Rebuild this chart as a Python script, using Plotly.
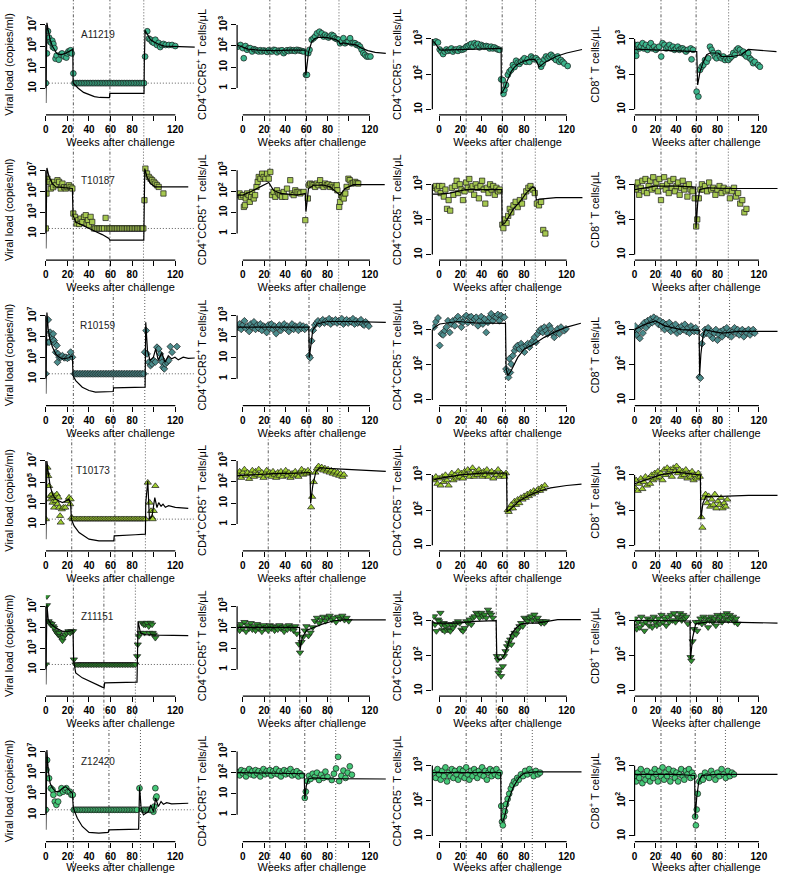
import plotly.graph_objects as go

W, H = 787, 873
LOD = 1.48  # log10 of the detection limit (copies/ml)

animals = ["A11219", "T10187", "R10159", "T10173", "Z11151", "Z12420"]
symbols = ["circle", "square", "diamond", "triangle-up", "triangle-down", "circle"]
colors = ["#3cb48c", "#a6c850", "#4b8c8c", "#a0cf30", "#2f8f2f", "#45c878"]
sizes = [5.8, 5.3, 5.3, 6.3, 6.3, 5.8]
# weeks of the three vertical reference lines per animal
events = [[25.5, 59.4, 90.8], [25.5, 59.4, 90.5], [25.5, 62.5, 91.7],
          [24.0, 64.0, 92.3], [25.5, 53.8, 83.0], [25.5, 58.5, 87.7]]
x_ticks = [0, 20, 40, 60, 80, 120]
x_ticklabels = ["0", "20", "40", "60", "80", "120"]
ytitles = ["Viral load (copies/ml)", "CD4<sup>+</sup>CCR5<sup>+</sup> T cells/μL",
           "CD4<sup>+</sup>CCR5<sup>−</sup> T cells/μL", "CD8<sup>+</sup> T cells/μL"]
y_tickvals = [[10, 1e3, 1e5, 1e7], [1, 10, 100, 1000], [10, 100, 1000], [10, 100, 1000]]
y_ticktext = [["10", "10<sup>3</sup>", "10<sup>5</sup>", "10<sup>7</sup>"],
              ["1", "10", "10<sup>2</sup>", "10<sup>3</sup>"],
              ["10", "10<sup>2</sup>", "10<sup>3</sup>"],
              ["10", "10<sup>2</sup>", "10<sup>3</sup>"]]
y_axisline = [(1, 7), (0, 3), (1, 3), (1, 3)]

# ---------------- A11219 ----------------
A11219_vl = [(1,4.3),(2,6.4),(3,5.8),(4,5.4),(5,5.3),(6,5.5),(6.5,4.9),(7,5.2),(8,4.8),(9,3.8),(10,4.1),(12,3.7),(14,4.2),(15,4.3),(17,4.0),(19,3.9),(20,4.3),(21,4.5),(22,4.4),(23,4.6),(24,4.3),(25.5,2.4),(92,4.0),(94,6.4),(95.5,5.7),(97,5.6),(98.5,5.4),(100,5.3),(101.5,5.6),(103,5.1),(104.5,5.3),(106,4.9),(107.5,5.1),(109,5.2),(111,5.1),(114,5.1),(117,5.1),(120,5.0)]
A11219_vl_lod = [0,26.5,28,29.5,31,32.5,34,35.5,37,38.5,40,41.5,43,44.5,46,47.5,49,50.5,52,53.5,55,56.5,58,59.5,61,62.5,64,65.5,67,68.5,70,71.5,73,74.5,76,77.5,79,80.5,82,83.5,85,86.5,88,89.5,91]
A11219_vl_model = [(0,-0.4),(0.3,3.0),(1,7.2),(2,6.6),(3,6.0),(4,5.6),(6,5.0),(8,4.6),(10,4.3),(12,4.2),(15,4.2),(18,4.3),(21,4.5),(24,4.7),(25,4.7),(25.3,1.5),(27,1.3),(30,1.0),(35,0.6),(40,0.37),(45,0.2),(50,0.12),(55,0.1),(59,0.1),(59.3,0.5),(75,0.5),(91,0.5),(91.3,3.5),(92,6.5),(93,6.3),(95,5.9),(97,5.6),(100,5.4),(105,5.15),(110,5.0),(120,4.95),(138,4.9)]
A11219_r5p = [(-4.7,1.97),(-2.2,2.05),(0,1.90),(0.9,1.42),(2.5,2.00),(4,1.82),(5.5,1.90),(7,1.90),(8.8,1.74),(10.5,1.85),(12,1.82),(13.5,1.78),(15,1.74),(16.5,1.80),(18,1.74),(19.7,1.79),(21.3,1.76),(23,1.72),(24.5,1.80),(26,1.75),(27.6,1.74),(29.2,1.82),(30.7,1.80),(32.3,1.70),(34,1.78),(35.4,1.76),(37,1.80),(38.6,1.66),(40,1.74),(41.7,1.80),(43.3,1.76),(44.8,1.82),(46.4,1.78),(48,1.80),(49.5,1.76),(51,1.82),(52.7,1.80),(54.2,1.78),(55.8,1.76),(57.4,1.74),(59.6,0.63),(60.6,0.63),(61.8,1.66),(63,1.82),(65,2.30),(66.8,2.37),(68.3,2.45),(70,2.60),(72.4,2.68),(74.6,2.60),(76.2,2.45),(77.7,2.53),(79.3,2.45),(81,2.40),(82.4,2.45),(84,2.53),(85.6,2.48),(87,2.37),(88.7,2.33),(90.3,2.30),(91.8,2.13),(93.4,2.21),(95,2.37),(96.5,2.13),(98.2,2.18),(99.7,2.21),(101.3,2.37),(102.8,2.13),(104.4,2.15),(106,2.13),(107.5,2.05),(109,2.05),(110.7,1.97),(112.2,1.82),(113.8,1.66),(115.4,1.58),(117,1.50),(118.5,1.50),(120.5,1.50)]
A11219_r5p_model = [(-5.4,2.05),(0,1.95),(5,1.85),(15,1.8),(30,1.78),(45,1.8),(58.8,1.8),(59.5,0.6),(60.5,1.0),(62,1.7),(65,2.2),(68,2.35),(72,2.42),(80,2.4),(88,2.3),(91,2.2),(92,2.1),(95,2.15),(100,2.1),(107,2.05),(112,1.9),(118,1.78),(125,1.7),(135,1.65)]
A11219_r5n = [(-4.7,2.90),(-3,2.93),(-1,2.90),(0.6,2.70),(2.2,2.64),(3.8,2.57),(5.3,2.64),(6.9,2.70),(8.4,2.66),(10,2.69),(11.6,2.73),(13,2.64),(14.7,2.69),(16.2,2.70),(17.8,2.66),(19.4,2.73),(21,2.69),(22.5,2.70),(24,2.73),(25.6,2.78),(27,2.80),(28.7,2.83),(30.3,2.86),(31.8,2.78),(33.4,2.88),(35,2.83),(36.5,2.86),(38,2.76),(39.7,2.83),(41.2,2.80),(42.8,2.78),(44.4,2.80),(46,2.78),(47.5,2.73),(49,2.78),(50.6,2.73),(52,2.76),(53.7,2.73),(55.3,2.70),(56.9,2.69),(58.4,1.85),(60,1.83),(60.6,1.44),(61.5,1.55),(63,1.69),(64.7,1.98),(66.2,2.07),(67.8,2.12),(69.4,2.26),(71,2.20),(72.5,2.38),(74,2.32),(75.6,2.29),(77.2,2.35),(78.7,2.40),(80.3,2.45),(81.9,2.35),(83.4,2.42),(85,2.35),(86.6,2.50),(88.1,2.45),(89.7,2.42),(91.2,2.45),(92.8,2.40),(94.4,2.35),(96,2.21),(97.5,2.30),(99,2.42),(100.6,2.50),(102.2,2.45),(103.8,2.50),(105.3,2.55),(106.9,2.50),(108.4,2.45),(110,2.40),(111.6,2.50),(113.1,2.35),(114.7,2.40),(116.3,2.35),(117.8,2.30),(121,2.23)]
A11219_r5n_model = [(-6.3,2.92),(-4.7,2.92),(-2,2.8),(0.6,2.69),(3,2.68),(20,2.7),(40,2.72),(58.4,2.73),(58.6,1.44),(60,1.5),(62,1.62),(64,1.8),(67.8,2.07),(71,2.2),(74,2.28),(80,2.37),(86,2.42),(90,2.42),(92,2.35),(94,2.2),(97,2.28),(100,2.34),(110,2.5),(120,2.6),(134.5,2.7)]
A11219_cd8 = [(0.6,2.83),(1,2.62),(1.6,2.52),(3.2,2.83),(4.5,2.73),(6,2.79),(7.7,2.88),(9,2.73),(10.9,2.83),(12.5,2.69),(14.1,2.78),(15.7,2.88),(17.3,2.73),(18.9,2.78),(20.5,2.69),(22,2.73),(23.7,2.78),(25.7,2.50),(27,2.88),(28.8,2.83),(30.5,2.73),(32,2.78),(33.7,2.83),(35.3,2.73),(37,2.78),(38.5,2.69),(40.1,2.73),(41.7,2.78),(43.3,2.69),(45,2.73),(46.5,2.73),(48,2.69),(49.6,2.64),(51.3,2.69),(54.2,2.73),(55,2.42),(56.4,2.69),(59.9,1.50),(61.6,1.36),(63.2,2.12),(64.8,2.21),(66.4,2.26),(68,2.40),(69.6,2.35),(71.2,2.45),(72.8,2.78),(74.4,2.69),(76,2.60),(77.6,2.50),(79.2,2.45),(80.8,2.60),(82.4,2.50),(84,2.45),(85.7,2.50),(87.3,2.40),(88.9,2.45),(90.5,2.40),(92,2.45),(93.7,2.50),(95.3,2.60),(96.9,2.55),(98.5,2.69),(100,2.73),(101.7,2.69),(103.3,2.60),(104.9,2.64),(106.5,2.55),(108,2.50),(109.7,2.60),(111.3,2.45),(113,2.40),(114.5,2.31),(116,2.35),(119.3,2.26),(121,2.21)]
A11219_cd8_model = [(0,2.71),(30,2.68),(60,2.64),(60.9,1.69),(63.2,2.07),(66.4,2.35),(69.6,2.55),(72.8,2.6),(80.8,2.6),(84,2.5),(93.7,2.5),(103.3,2.55),(109.7,2.7),(137,2.64)]

# ---------------- T10187 ----------------
T10187_vl = [(0.6,4.79),(1.5,6.2),(3,5.9),(4.6,5.27),(5.5,5.74),(6.8,5.4),(7.7,5.9),(9.2,5.58),(10.8,6.06),(12.3,5.9),(13.8,5.27),(15.4,5.74),(17,5.4),(18.5,5.27),(20,5.4),(21.5,5.58),(23,5.42),(24.6,5.27),(25.5,2.9),(27,2.58),(28.6,1.95),(30,2.26),(31,1.9),(32.3,2.42),(33.8,2.1),(35.4,2.58),(37,2.74),(37.8,1.95),(39,2.26),(40,1.79),(41.5,2.58),(43,2.1),(55.4,2.48),(91.4,4.16),(92.3,7.16),(93.8,6.69),(95.4,6.37),(97,6.2),(98.5,6.06),(100,5.9),(101.5,5.74),(103,5.58),(104.6,5.42),(109,4.8)]
T10187_vl_lod = [0,44.6,46,47.7,49.2,50.8,52.3,54,57,58.5,60,61.5,63,64.6,66,67.7,69.2,70.8,72.3,74,75.4,77,78.5,80,81.5,83,84.6,86,87.7,89.2,90.4]
T10187_vl_model = [(0,-0.42),(0.3,3.0),(1,7.22),(3,6.37),(4.6,6.05),(6.2,5.74),(9.2,5.42),(21.5,5.27),(24.6,5.27),(25.2,2.74),(27.7,2.1),(33.8,1.8),(40,1.47),(46,1.2),(52.3,0.9),(58.5,0.53),(59.4,0.37),(90.8,0.37),(91.7,7.16),(93.8,6.37),(96.9,5.74),(101.5,5.42),(132,5.42)]
T10187_r5p = [(-4.7,1.82),(-3.1,1.90),(-1.6,1.74),(0,1.82),(1,1.26),(2,1.34),(2.8,1.66),(4,1.90),(5.5,1.82),(6.6,1.50),(7.8,1.74),(8.8,1.97),(10.3,1.66),(11.6,1.82),(12.9,2.21),(14,2.45),(15,2.68),(16.6,2.60),(18.2,2.84),(19.7,2.68),(21.3,2.60),(22.9,2.84),(24.5,2.60),(26,2.92),(27.6,1.82),(29,1.97),(30.7,1.74),(32.3,2.05),(33.9,1.90),(35.4,1.82),(37,1.74),(38.6,1.97),(40.2,1.74),(41.7,2.13),(44.8,2.53),(46.4,1.90),(48,1.82),(49.5,2.05),(51,1.97),(52.7,1.97),(54.3,1.90),(57.4,1.97),(59,0.63),(61.4,1.66),(62.4,2.29),(63.6,2.37),(65.2,2.33),(66.8,2.29),(68.3,2.21),(69.9,2.37),(71.5,2.29),(73,2.53),(74.6,2.29),(76.2,2.21),(77.7,2.37),(79.3,2.29),(80.9,2.33),(82.4,2.21),(84,2.29),(85.6,2.21),(87.1,2.16),(88.7,2.29),(89.3,2.05),(91,1.26),(91.8,1.50),(92.8,1.82),(94,1.74),(95.3,1.66),(96.8,1.90),(98,2.21),(99.7,2.60),(101,2.53),(102.8,2.37),(104.4,2.40),(106,2.45),(107.5,2.40),(109,2.37)]
T10187_r5p_model = [(-6,1.82),(0,1.82),(7,1.97),(19.7,2.29),(24.5,2.42),(29,2.05),(35.4,1.9),(51,1.82),(59,1.9),(59.6,1.03),(62,2.13),(66.8,2.29),(76,2.3),(82.4,2.21),(88.7,1.97),(91.8,1.82),(96.5,2.13),(99.7,2.21),(104.4,2.32),(113.8,2.32),(134,2.32)]
T10187_r5n = [(-4.5,2.90),(-3,2.95),(-1.5,2.85),(0,2.95),(1.5,2.75),(3,2.95),(4.5,2.65),(6,2.85),(7.5,2.30),(9,2.55),(10.5,2.25),(12,2.90),(13.5,2.70),(15,2.95),(16.5,3.10),(18,2.75),(19.5,3.00),(21,2.85),(22.5,2.55),(24,2.80),(25.5,3.05),(27,2.90),(28.5,3.15),(30,2.85),(31.5,2.95),(33,2.70),(34.5,3.00),(36,2.90),(37.5,2.60),(39,2.95),(40.5,3.10),(42,2.85),(43.5,2.45),(45,2.90),(46.5,2.75),(48,3.00),(49.5,2.85),(51,2.95),(52.5,2.70),(54,2.90),(55.5,2.80),(57,2.85),(59.5,1.85),(60.5,1.75),(62,2.00),(63.5,1.90),(65,2.10),(66.5,2.30),(68,2.20),(70,2.40),(72,2.50),(74,2.35),(76,2.55),(78,2.45),(80,2.65),(82,2.80),(84,2.90),(86,2.95),(88,2.85),(90,2.75),(92,2.45),(94,2.40),(96,2.50),(98,1.70),(100,1.60)]
T10187_r5n_model = [(-6,2.72),(0,2.72),(10,2.75),(25,2.85),(45,2.85),(59,2.85),(59.3,1.85),(62,1.9),(66,2.1),(70,2.3),(76,2.5),(82,2.75),(88,2.92),(90.5,2.88),(91.5,2.55),(95,2.58),(110,2.62),(135,2.62)]
T10187_cd8 = [(0,2.95),(1.5,2.85),(3,3.05),(4.5,2.70),(6,2.90),(7.5,3.10),(9,2.80),(10.5,3.15),(12,2.75),(13.5,2.95),(15,3.10),(16.5,2.85),(18,3.20),(19.5,2.90),(21,3.05),(22.5,2.80),(24,3.15),(25.5,2.55),(27,2.95),(28.5,3.20),(30,2.85),(31.5,3.00),(33,2.75),(34.5,3.10),(36,2.90),(37.5,3.15),(39,2.80),(40.5,2.95),(42,3.05),(43.5,2.70),(45,2.90),(46.5,3.10),(48,2.85),(49.5,2.95),(51,2.65),(52.5,3.00),(54,2.85),(56,2.80),(58,2.60),(59.5,1.80),(60.5,2.00),(62,2.60),(63.5,2.85),(65,3.00),(66.5,2.85),(68,2.95),(70,2.80),(72,3.05),(74,2.85),(76,2.90),(78,2.70),(80,2.85),(82,2.95),(84,2.75),(86,2.90),(88,2.80),(90,2.85),(92,2.60),(94,2.80),(96,2.90),(98,2.65),(100,2.75),(102,2.45),(104,2.55),(106,2.20),(108,2.30)]
T10187_cd8_model = [(0,2.85),(20,2.95),(40,2.95),(59,2.92),(59.3,1.75),(61,2.5),(63,2.85),(70,2.9),(90,2.88),(138,2.88)]

# ---------------- R10159 ----------------
R10159_vl = [(1,4.47),(2.2,6.6),(3,4.47),(4,5.42),(5.2,5.1),(6.2,4.8),(6.8,5.27),(7.7,4.63),(8.6,4.32),(9.2,3.53),(10.2,4.16),(10.8,2.58),(11.4,3.37),(12.3,3.05),(13.8,3.05),(15.4,3.2),(17,3.0),(18.5,3.05),(20,2.95),(21.5,3.05),(23,3.53),(24.6,3.05),(91.7,3.53),(93,5.58),(93.8,3.37),(95.4,2.58),(97,2.26),(98.5,2.42),(100,2.74),(101.5,2.6),(103,4.0),(104.6,3.84),(106,3.37),(107,2.9),(107.7,2.58),(108.6,2.1),(109.8,1.95),(110.8,2.42),(112.3,2.58),(113.8,2.74),(115.4,4.06),(117,3.53),(121.5,4.06)]
R10159_vl_lod = [0,26.5,28,29.5,31,32.5,34,35.5,37,38.5,40,41.5,43,44.5,46,47.5,49,50.5,52,53.5,55,56.5,58,59.5,61,62.5,64,65.5,67,68.5,70,71.5,73,74.5,76,77.5,79,80.5,82,83.5,85,86.5,88,89.5,91]
R10159_vl_model = [(0,-0.42),(0.3,3.0),(1,7.3),(2.2,5.74),(3.7,4.8),(6.2,4.0),(9.2,3.37),(12.3,3.05),(15.4,2.9),(21.5,3.0),(24.6,3.2),(25.2,1.3),(27.7,0.84),(33.8,0.21),(40,-0.1),(46,-0.26),(52.3,-0.26),(62.5,-0.2),(62.8,0.15),(92,0.21),(92.6,6.37),(94.2,3.7),(96.6,2.74),(99.7,3.05),(101.8,3.84),(104.3,2.74),(107.4,3.5),(110.5,2.58),(113.5,3.2),(116.6,2.9),(119.7,3.05),(122.8,2.8),(127.3,3.05),(132,2.95),(138,2.98)]
R10159_r5p = [(-4.5,2.45),(-3,2.60),(-1.5,2.35),(0,2.55),(1.5,2.75),(3,2.40),(4.5,2.50),(6,2.25),(7.5,2.60),(9,2.45),(10.5,2.70),(12,2.35),(13.5,2.55),(15,2.40),(16.5,2.60),(18,2.30),(19.5,2.50),(21,2.45),(22.5,2.20),(24,2.55),(25.5,2.40),(27,2.60),(28.5,2.35),(30,2.50),(31.5,2.15),(33,2.45),(34.5,2.55),(36,2.30),(37.5,2.45),(39,2.60),(40.5,2.40),(42,2.50),(43.5,2.25),(45,2.45),(46.5,2.60),(48,2.35),(49.5,2.50),(51,2.45),(52.5,2.30),(54,2.55),(55.5,2.40),(57,2.50),(58.5,2.35),(60,2.45),(62.5,1.10),(63.5,1.00),(65,1.80),(66.5,2.30),(68,2.55),(69.5,2.65),(71,2.75),(72.5,2.60),(74,2.70),(75.5,2.80),(77,2.65),(78.5,2.75),(80,2.70),(81.5,2.85),(83,2.60),(84.5,2.75),(86,2.70),(87.5,2.80),(89,2.65),(90.5,2.75),(92,2.70),(93.5,2.85),(95,2.60),(96.5,2.70),(98,2.80),(99.5,2.65),(101,2.75),(102.5,2.70),(104,2.85),(105.5,2.60),(107,2.75),(108.5,2.65),(110,2.70),(111.5,2.80),(113,2.60),(114.5,2.55),(116,2.70),(117.5,2.60),(119,2.50)]
R10159_r5p_model = [(-5.4,2.45),(20,2.45),(40,2.45),(62.3,2.45),(62.8,1.0),(64,1.5),(66,2.3),(70,2.6),(80,2.72),(100,2.72),(120,2.7),(135,2.68)]
R10159_r5n = [(-4.7,3.07),(-3.1,3.22),(-1,3.33),(0.6,2.55),(2.2,2.88),(3.8,2.85),(5.3,2.97),(6.9,3.07),(8.4,3.25),(10,2.92),(11.5,3.16),(13,3.25),(14.7,3.11),(16.2,3.30),(17.8,3.37),(19.4,3.25),(21,3.07),(22.5,3.21),(24,3.35),(25.6,3.40),(27,3.20),(28.7,3.35),(30.3,3.37),(31.8,3.21),(33.4,3.30),(35,3.35),(36.6,3.11),(38.1,3.25),(39.7,3.37),(41.2,3.16),(42.8,3.30),(44.4,2.92),(46,3.21),(47.5,3.35),(49,3.45),(50.6,3.25),(52,3.37),(53.7,3.35),(55.3,3.43),(56.8,3.25),(58.4,3.40),(60,3.35),(61.5,3.35),(63,1.88),(64,1.81),(65.3,1.64),(66.2,2.17),(67,1.78),(67.8,2.02),(69.4,2.26),(71,2.40),(72.5,2.50),(74,2.55),(75.6,2.45),(77.2,2.60),(78.7,2.50),(80.3,2.36),(81.9,2.55),(83.4,2.60),(85,2.50),(86.6,2.60),(88.1,2.68),(89.7,2.78),(91.2,2.64),(92.8,2.88),(94.4,2.97),(96,3.02),(97.5,2.92),(99,3.07),(100.6,2.97),(102.2,2.88),(103.8,3.11),(105.3,3.02),(106.9,2.88),(108.4,2.78),(110,2.92),(111.6,3.02),(113.1,2.88),(114.7,3.07),(117.8,2.97),(119.4,3.02)]
R10159_r5n_model = [(-6.3,3.0),(-4.1,3.07),(0.6,3.16),(8.4,3.2),(17.8,3.23),(33.4,3.19),(49,3.18),(62.5,3.18),(63.1,1.88),(64.7,1.69),(67.8,1.83),(74,2.21),(80.3,2.45),(89.7,2.6),(99,2.78),(111.6,2.97),(121,3.08),(133.4,3.18)]
R10159_cd8 = [(-1,2.95),(0.5,3.10),(2,2.85),(3.5,3.00),(5,2.75),(6.5,3.10),(8,2.90),(9.5,3.20),(11,3.05),(12.5,3.25),(14,3.15),(15.5,3.30),(17,3.20),(18.5,3.35),(20,3.25),(21.5,3.30),(23,3.15),(24.5,3.25),(26,3.10),(27.5,3.20),(29,3.00),(30.5,3.15),(32,3.05),(33.5,3.20),(35,2.95),(36.5,3.10),(38,3.00),(39.5,3.15),(41,2.90),(42.5,3.05),(44,2.95),(45.5,3.10),(47,3.00),(48.5,3.15),(50,2.95),(51.5,3.05),(53,2.90),(54.5,3.10),(56,3.00),(57.5,2.95),(59,3.05),(60.5,2.95),(62.5,1.65),(63.5,1.62),(65,2.60),(66.5,2.85),(68,3.00),(69.5,2.90),(71,3.05),(72.5,2.85),(74,2.95),(75.5,2.75),(77,2.90),(78.5,3.00),(80,2.70),(81.5,2.85),(83,2.95),(84.5,2.80),(86,3.00),(87.5,2.90),(89,3.05),(90.5,2.85),(92,2.95),(93.5,2.80),(95,2.95),(96.5,3.05),(98,2.90),(99.5,3.00),(101,2.85),(102.5,2.95),(104,3.00),(105.5,2.80),(107,2.95),(108.5,2.90),(110,3.00),(111.5,2.85),(113,2.95),(114.5,3.00),(116,2.90)]
R10159_cd8_model = [(0,3.0),(10,3.15),(20,3.25),(30,3.1),(45,3.0),(62.3,2.98),(62.8,1.7),(64,2.3),(66,2.8),(68,3.0),(75,2.95),(85,2.9),(100,2.95),(120,2.95),(138,2.95)]

# ---------------- T10173 ----------------
T10173_vl = [(0.6,5.9),(1.5,6.37),(2.2,5.58),(3,4.63),(4,3.68),(4.6,3.37),(5.5,3.84),(6.2,3.05),(6.8,3.53),(7.7,2.58),(8.6,3.68),(9.2,3.2),(10.2,3.84),(10.8,2.9),(11.7,3.53),(12.3,2.58),(13.2,1.79),(13.8,1.16),(14.8,2.42),(16.3,2.58),(18,2.58),(20,3.2),(21.5,3.53),(22.5,2.9),(23,3.37),(24,1.63),(94.5,4.95),(96.3,3.05),(97.5,2.26),(98.5,1.63),(100,2.26),(101.5,4.63)]
T10173_vl_lod = [0,25,26.5,28,29.5,31,32.5,34,35.5,37,38.5,40,41.5,43,44.5,46,47.5,49,50.5,52,53.5,55,56.5,58,59.5,61,62.5,64,65.5,67,68.5,70,71.5,73,74.5,76,77.5,79,80.5,82,83.5,85,86.5,88,89.5,91,92.5,99]
T10173_vl_model = [(0,-0.42),(0.3,3.0),(1,7.0),(2.2,5.9),(4,4.63),(6.2,3.84),(9.2,3.37),(12.3,3.2),(15.4,3.05),(18.5,3.2),(21.5,3.37),(23,2.9),(23.7,1.47),(26.2,0.84),(30.8,0.21),(40,-0.42),(49.2,-0.58),(63,-0.58),(63.4,-0.1),(83,0.0),(92.3,0.05),(92.6,3.0),(94.5,5.1),(96,1.47),(98.5,1.79),(101,3.53),(103,2.58),(104.6,3.05),(106.8,2.7),(108.6,2.9),(110.8,2.6),(113.8,2.75),(120,2.6),(126,2.55),(132,2.5)]
T10173_r5p = [(-4.5,2.35),(-3,2.50),(-1.5,2.20),(0,2.45),(1.5,2.60),(3,2.30),(4.5,2.45),(6,2.15),(7.5,2.40),(9,2.55),(10.5,2.25),(12,2.50),(13.5,2.35),(15,2.60),(16.5,2.30),(18,2.45),(19.5,2.20),(21,2.40),(22.5,2.55),(24,2.30),(25.5,2.45),(27,2.25),(28.5,2.50),(30,2.35),(31.5,2.20),(33,2.45),(34.5,2.30),(36,2.50),(37.5,2.25),(39,2.40),(40.5,2.55),(42,2.30),(43.5,2.45),(45,2.20),(46.5,2.40),(48,2.30),(49.5,2.50),(51,2.35),(52.5,2.25),(54,2.45),(55.5,2.60),(57,2.35),(58.5,2.50),(60,2.40),(61.5,2.55),(63,2.45),(64.5,0.80),(65.5,1.30),(67,2.00),(68.5,2.45),(70,2.65),(71.5,2.75),(73,2.60),(74.5,2.70),(76,2.55),(77.5,2.65),(79,2.50),(80.5,2.60),(82,2.45),(83.5,2.55),(85,2.40),(86.5,2.50),(88,2.35),(89.5,2.45),(91,2.30),(92.5,2.40),(94,2.25),(95.5,2.35)]
T10173_r5p_model = [(-5.4,2.3),(10,2.35),(30,2.4),(50,2.42),(63.5,2.45),(64,1.0),(66,1.8),(69,2.5),(73,2.68),(80,2.65),(95,2.6),(115,2.55),(135,2.5)]
T10173_r5n = [(-4.5,2.85),(-3,2.95),(-1.5,2.75),(0,2.90),(1.5,2.70),(3,2.95),(4.5,2.80),(6,3.00),(7.5,2.85),(9,2.70),(10.5,2.95),(12,3.05),(13.5,2.85),(15,3.00),(16.5,2.90),(18,3.10),(19.5,2.95),(21,3.05),(22.5,2.90),(24,3.10),(25.5,3.00),(27,3.15),(28.5,2.95),(30,3.05),(31.5,3.20),(33,2.95),(34.5,3.10),(36,3.00),(37.5,3.15),(39,3.05),(40.5,2.95),(42,3.10),(43.5,3.00),(45,3.15),(46.5,2.95),(48,3.05),(49.5,3.10),(51,2.90),(52.5,3.05),(54,3.00),(55.5,3.15),(57,2.95),(58.5,3.05),(60,3.00),(61.5,2.95),(63,3.05),(64.5,2.00),(65.5,1.95),(66.5,2.05),(68,2.15),(69.5,2.05),(71,2.25),(72.5,2.15),(74,2.30),(75.5,2.20),(77,2.35),(78.5,2.30),(80,2.40),(81.5,2.35),(83,2.45),(84.5,2.40),(86,2.50),(87.5,2.45),(89,2.55),(90.5,2.50),(92,2.55),(93.5,2.60),(95,2.55),(96.5,2.65),(98,2.60),(99.5,2.70)]
T10173_r5n_model = [(-6.3,2.85),(0,2.9),(20,3.0),(40,3.05),(63.5,3.05),(64,1.95),(68,2.05),(75,2.25),(85,2.42),(95,2.55),(105,2.63),(120,2.7),(134,2.74)]
T10173_cd8 = [(0,2.65),(1.5,2.85),(3,2.55),(4.5,2.75),(6,2.90),(7.5,2.60),(9,2.80),(10.5,2.95),(12,2.70),(13.5,2.90),(15,2.75),(16.5,3.00),(18,2.85),(19.5,3.05),(21,2.90),(22.5,3.10),(24,2.95),(25.5,3.05),(27,2.85),(28.5,3.15),(30,3.00),(31.5,3.20),(33,3.05),(34.5,3.15),(36,2.95),(37.5,3.20),(39,3.10),(40.5,3.25),(42,3.05),(43.5,3.15),(45,2.95),(46.5,3.10),(48,3.00),(49.5,3.15),(51,2.90),(52.5,3.05),(54,2.95),(55.5,3.10),(57,2.85),(58.5,3.00),(60,2.90),(61.5,3.05),(63,2.95),(64.5,1.80),(65.5,1.50),(67,2.35),(68.5,2.45),(70,2.20),(71.5,2.40),(73,2.10),(74.5,2.30),(76,2.15),(77.5,2.45),(79,2.05),(80.5,2.25),(82,2.15),(83.5,2.35),(85,2.05),(86.5,2.20),(88,2.10),(89.5,2.30)]
T10173_cd8_model = [(0,2.75),(10,2.85),(25,3.0),(40,3.08),(55,3.02),(63.5,3.0),(64,1.75),(66,2.2),(69,2.4),(75,2.38),(90,2.4),(110,2.42),(138,2.42)]

# ---------------- Z11151 ----------------
Z11151_vl = [(1,7.95),(1,7.1),(2.5,5.58),(3.5,5.42),(4.6,5.27),(5.5,5.33),(6.8,5.1),(7.7,4.95),(9.2,4.63),(10.2,4.5),(11.4,4.32),(12.3,4.47),(13.2,4.16),(14.5,4.0),(15.4,3.75),(16.3,4.06),(17.8,4.32),(19.4,4.47),(21,4.63),(22.5,4.47),(23.7,4.63),(25.2,4.63),(26,1.95),(84.6,2.26),(85.2,3.37),(86.2,4.16),(87.7,4.47),(89.2,5.42),(90.8,5.27),(91.4,4.47),(92.3,5.27),(93.8,5.42),(95.4,5.1),(96,4.47),(97,5.42),(98.5,5.27),(99,4.47),(100,4.32),(101.5,4.0)]
Z11151_vl_lod = [0,27.5,29,30.5,32,33.5,35,36.5,38,39.5,41,42.5,44,45.5,47,48.5,50,51.5,53,54.5,56,57.5,59,60.5,62,63.5,65,66.5,68,69.5,71,72.5,74,75.5,77,78.5,80,81.5,83]
Z11151_vl_model = [(0,-0.42),(0.3,3.0),(1,7.16),(2.2,5.74),(4.6,5.33),(9.2,4.95),(15.4,4.63),(21.5,4.63),(25.2,4.7),(25.8,1.79),(27.7,0.68),(33.8,0.21),(40,-0.1),(46,-0.42),(52.3,-0.67),(54,-0.74),(54.5,-0.26),(84.5,-0.2),(85.5,5.58),(87.7,4.47),(92.3,4.32),(104.6,4.26),(132,4.22)]
Z11151_r5p = [(-4.5,2.05),(-3,1.85),(-1.5,2.15),(0,1.95),(1.5,2.25),(3,1.80),(4.5,2.10),(6,1.95),(7.5,2.20),(9,1.90),(10.5,2.05),(12,1.85),(13.5,2.15),(15,1.95),(16.5,2.05),(18,1.80),(19.5,2.10),(21,1.95),(22.5,2.00),(24,1.85),(25.5,2.10),(27,1.95),(28.5,2.05),(30,1.85),(31.5,2.00),(33,1.90),(34.5,2.10),(36,1.95),(37.5,2.00),(39,1.80),(40.5,2.05),(42,1.90),(43.5,2.10),(45,1.95),(46.5,2.00),(48,1.85),(49.5,2.05),(51,1.70),(53,1.20),(54,0.80),(55.5,1.30),(57,1.55),(58.5,1.85),(60,2.05),(62,1.60),(64,1.75),(66,2.00),(68,2.30),(70,2.45),(72,2.20),(74,2.35),(76,2.50),(78,2.30),(80,2.45),(82,2.55),(84,2.35),(86,2.45),(88,2.25),(90,2.50),(92,2.40),(94,2.55),(96,2.35),(98,2.45),(100,2.30)]
Z11151_r5p_model = [(-5.4,2.0),(20,2.0),(40,2.0),(53.5,2.0),(54,0.9),(56,1.5),(60,1.85),(65,1.95),(75,2.15),(85,2.3),(95,2.35),(135,2.35)]
Z11151_r5n = [(-4.7,3.11),(-3.8,2.88),(-2.5,2.69),(-0.9,3.02),(0,2.97),(1.3,3.21),(2.2,2.88),(3.1,2.73),(4.4,2.92),(5.3,2.69),(6.2,2.83),(7.5,2.73),(8.4,2.88),(9.4,2.73),(10.6,2.69),(11.6,2.88),(13.1,2.78),(14.7,2.88),(16.2,2.92),(17.8,2.97),(19.4,2.92),(21,2.73),(22.5,2.69),(24,2.78),(25.6,2.97),(27.2,2.92),(28.8,3.02),(30.3,2.88),(31.8,3.07),(33.4,3.11),(35,3.21),(36.6,3.16),(38.1,3.07),(39.7,3.21),(41.2,3.11),(42.8,3.16),(44.4,3.07),(46,3.30),(47.5,3.21),(49,3.16),(50.6,3.07),(54.4,1.98),(55.3,1.88),(55.9,1.50),(56.9,1.60),(58.4,1.41),(60,1.69),(61,1.98),(62.5,2.12),(64,2.26),(65.3,2.36),(66.9,2.45),(68,2.31),(69.4,2.55),(71,2.64),(72.5,2.60),(74,2.73),(75.6,2.83),(77.2,2.92),(78.7,2.83),(80.3,3.07),(81.9,3.02),(83.4,2.97),(85,3.07),(86.6,3.11),(88.1,2.99),(89.7,3.16),(91.2,3.02),(92.8,3.07),(94.4,2.97),(96,2.92),(97.5,2.97),(99,2.92),(100.6,2.97)]
Z11151_r5n_model = [(-6.3,2.97),(-4.1,2.92),(0.6,2.92),(17.8,2.92),(33.4,2.97),(53.7,2.99),(54.3,1.98),(55.9,1.88),(58.4,1.88),(61.5,2.02),(64.7,2.3),(67.8,2.6),(72.5,2.78),(77.2,2.9),(83.4,2.92),(92.8,2.92),(102,2.97),(111.6,3.02),(133.4,3.02)]
Z11151_cd8 = [(-1,2.85),(0.5,3.05),(2,2.75),(3.5,2.95),(5,2.80),(6.5,3.10),(8,2.90),(9.5,2.70),(11,2.95),(12.5,3.05),(14,2.85),(15.5,3.00),(17,2.80),(18.5,3.10),(20,2.95),(21.5,2.85),(23,3.05),(24.5,2.90),(26,3.15),(27.5,2.95),(29,3.05),(30.5,2.85),(32,3.10),(33.5,2.95),(35,3.15),(36.5,3.00),(38,3.20),(39.5,2.95),(41,3.10),(42.5,3.05),(44,3.20),(45.5,3.00),(47,3.15),(48.5,3.05),(50,3.10),(51.5,2.90),(54,1.95),(54.8,1.85),(56,2.40),(57.5,2.75),(59,2.95),(60.5,2.70),(62,2.95),(63.5,3.05),(65,2.90),(66.5,3.10),(68,2.95),(69.5,3.05),(71,2.80),(72.5,3.00),(74,3.10),(75.5,2.95),(77,3.05),(78.5,2.85),(80,3.15),(81.5,3.00),(83,3.10),(84.5,2.95),(86,3.15),(87.5,3.05),(89,3.20),(90.5,3.00),(92,3.15),(93.5,3.05),(95,3.10),(96.5,2.95),(98,3.05),(99.5,2.90)]
Z11151_cd8_model = [(0,3.0),(20,3.0),(40,3.0),(53.5,2.98),(54,1.9),(56,2.5),(59,2.9),(70,2.95),(90,2.95),(138,2.92)]

# ---------------- Z12420 ----------------
Z12420_vl = [(0.6,5.27),(1.2,6.2),(3,4.47),(4.6,3.53),(6.2,3.37),(7,2.9),(8.3,2.26),(9.8,1.95),(11.4,2.26),(12.9,3.05),(14.5,3.53),(16,3.2),(17.8,3.37),(19,3.53),(20.6,3.2),(22.2,3.2),(23.7,2.9),(25,2.9),(86.8,3.53),(99.7,1.3),(100.6,1.79),(101.5,3.53),(102,2.58),(102.6,2.74)]
Z12420_vl_lod = [0,26,27.5,29,30.5,32,33.5,35,36.5,38,39.5,41,42.5,44,45.5,47,48.5,50,51.5,53,54.5,56,57.5,59,60.5,62,63.5,65,66.5,68,69.5,71,72.5,74,75.5,77,78.5,80,81.5,83,84.5,90,91.5,93,94.5,96,97.5,99]
Z12420_vl_model = [(0,-0.42),(0.3,3.0),(1,7.16),(2.2,5.27),(4,4.0),(6.2,3.53),(9.2,3.2),(12.3,3.2),(15.4,3.53),(18.5,3.68),(21.5,3.37),(24.6,3.05),(25.5,1.63),(29.2,0.68),(33.8,-0.1),(36.9,-0.42),(40,-0.67),(49.2,-0.74),(57.8,-0.67),(58.5,-0.42),(86,-0.35),(86.9,3.68),(88.3,1.63),(90.5,1.0),(95,1.3),(97.2,1.95),(99.7,1.3),(101.8,2.58),(104.3,1.79),(106.8,2.26),(109,2.0),(112,2.15),(116.6,2.05),(132,2.1)]
Z12420_r5p = [(-4.5,2.02),(-3,1.87),(-1.5,2.12),(0,1.97),(1.5,2.07),(3,1.82),(4.5,2.02),(6,2.17),(7.5,1.92),(9,2.07),(10.5,1.87),(12,2.12),(13.5,1.97),(15,2.07),(16.5,1.82),(18,2.02),(19.5,2.17),(21,1.92),(22.5,2.07),(24,1.97),(25.5,2.12),(27,1.87),(28.5,2.07),(30,1.97),(31.5,2.17),(33,1.92),(34.5,2.07),(36,1.82),(37.5,2.02),(39,2.12),(40.5,1.92),(42,2.07),(43.5,1.97),(45,2.17),(46.5,1.87),(48,2.02),(49.5,1.92),(51,2.07),(52.5,1.82),(54,1.97),(56,1.87),(58.5,0.80),(59.5,1.10),(61,1.60),(62.5,1.85),(64,1.70),(66,1.95),(68,1.80),(70,2.00),(72,1.65),(74,1.90),(76,1.75),(78,2.05),(80,1.80),(84,1.65),(86,1.95),(88,2.20),(90,2.75),(91,1.60),(93,1.85),(95,2.10),(97,1.75),(99,2.00),(101,2.30),(103,1.90)]
Z12420_r5p_model = [(-5.4,2.0),(20,1.98),(40,1.97),(58,1.95),(58.5,0.75),(60,1.4),(62,1.7),(66,1.75),(80,1.72),(100,1.72),(135,1.7)]
Z12420_r5n = [(-4.5,2.80),(-3,2.65),(-1.5,2.90),(0,2.75),(1.5,2.60),(3,2.85),(4.5,2.70),(6,2.95),(7.5,2.55),(9,2.80),(10.5,2.70),(12,2.90),(13.5,2.65),(15,2.85),(16.5,2.75),(18,2.60),(19.5,2.90),(21,2.70),(22.5,2.85),(24,2.65),(25.5,2.95),(27,2.75),(28.5,2.60),(30,2.85),(31.5,2.70),(33,2.90),(34.5,2.80),(36,2.65),(37.5,2.85),(39,2.75),(40.5,2.95),(42,2.70),(43.5,2.85),(45,2.60),(46.5,2.80),(48,2.90),(49.5,2.70),(51,2.85),(52.5,2.75),(54,2.90),(55.5,2.70),(57,2.80),(58.5,1.85),(59.2,1.40),(60,1.30),(61,1.55),(62,1.70),(63,1.90),(64.5,2.05),(66,2.20),(67.5,2.35),(69,2.45),(70.5,2.55),(72,2.50),(73.5,2.65),(75,2.60),(77,2.75),(79,2.70),(81,2.85),(83,2.75),(85,2.90),(87,2.80),(89,2.70),(91,2.85),(93,2.75),(95,2.80)]
Z12420_r5n_model = [(-6.3,2.8),(0,2.8),(20,2.8),(40,2.8),(58,2.8),(58.5,1.45),(60,1.4),(62,1.6),(65,2.0),(70,2.4),(75,2.65),(80,2.78),(90,2.82),(134,2.82)]
Z12420_cd8 = [(0,2.70),(1.5,2.55),(3,2.80),(4.5,2.65),(6,2.90),(7.5,2.50),(9,2.75),(10.5,2.60),(12,2.85),(13.5,2.70),(15,2.55),(16.5,2.80),(18,2.65),(19.5,2.90),(21,2.75),(22.5,2.55),(24,2.85),(25.5,2.70),(27,2.95),(28.5,2.60),(30,2.80),(31.5,2.70),(33,2.90),(34.5,2.55),(36,2.75),(37.5,2.85),(39,2.65),(40.5,2.80),(42,2.55),(43.5,2.75),(45,2.90),(46.5,2.70),(48,2.60),(49.5,2.85),(51,2.75),(52.5,2.90),(54,2.65),(55.5,2.80),(57,2.70),(58.5,1.55),(59.2,1.30),(60,1.75),(61,2.20),(62.5,2.55),(64,2.70),(66,2.60),(68,2.80),(70,2.70),(72,2.65),(74,2.85),(76,2.75),(78,2.60),(80,2.80),(82,2.70),(84,2.90),(86,2.75),(88,2.65),(90,2.85),(92,2.70),(94,2.80),(96,2.75)]
Z12420_cd8_model = [(0,2.75),(20,2.75),(40,2.75),(58,2.72),(58.5,1.5),(60,2.1),(62,2.55),(65,2.72),(80,2.75),(100,2.75),(138,2.75)]

panels = [
    [(A11219_vl, A11219_vl_lod, A11219_vl_model), (A11219_r5p, None, A11219_r5p_model), (A11219_r5n, None, A11219_r5n_model), (A11219_cd8, None, A11219_cd8_model)],
    [(T10187_vl, T10187_vl_lod, T10187_vl_model), (T10187_r5p, None, T10187_r5p_model), (T10187_r5n, None, T10187_r5n_model), (T10187_cd8, None, T10187_cd8_model)],
    [(R10159_vl, R10159_vl_lod, R10159_vl_model), (R10159_r5p, None, R10159_r5p_model), (R10159_r5n, None, R10159_r5n_model), (R10159_cd8, None, R10159_cd8_model)],
    [(T10173_vl, T10173_vl_lod, T10173_vl_model), (T10173_r5p, None, T10173_r5p_model), (T10173_r5n, None, T10173_r5n_model), (T10173_cd8, None, T10173_cd8_model)],
    [(Z11151_vl, Z11151_vl_lod, Z11151_vl_model), (Z11151_r5p, None, Z11151_r5p_model), (Z11151_r5n, None, Z11151_r5n_model), (Z11151_cd8, None, Z11151_cd8_model)],
    [(Z12420_vl, Z12420_vl_lod, Z12420_vl_model), (Z12420_r5p, None, Z12420_r5p_model), (Z12420_r5n, None, Z12420_r5n_model), (Z12420_cd8, None, Z12420_cd8_model)],
]
label_week = [48, 48, 48, 44, 48, 48]

# ---------------- layout geometry (pixels) ----------------
ROW_H = 145.5
PLOT_TOP, PLOT_BOT = 14, 115
col_px = [(43, 193), (235, 385), (431, 582), (634, 778)]
x_ranges = [[0, 138.5], [-5.4, 135.7], [-6.3, 135.2], [0, 138.5]]
y_ranges = [[-1.53, 8.04], [-1.27, 3.52], [0.84, 3.71], [0.84, 3.71]]
standoffs = [9, 8, 8, 12]

FONT = "Liberation Sans, Arial, sans-serif"
fig = go.Figure()
layout = {}
shapes = []
annotations = []

def unzip(pairs):
    return [p[0] for p in pairs], [10 ** p[1] for p in pairs]

for r in range(6):
    rt = r * ROW_H
    ydom = [1 - (rt + PLOT_BOT) / H, 1 - (rt + PLOT_TOP) / H]
    for c in range(4):
        k = r * 4 + c + 1
        xa = "x" if k == 1 else f"x{k}"
        ya = "y" if k == 1 else f"y{k}"
        xdom = [col_px[c][0] / W, col_px[c][1] / W]
        data, lod, model = panels[r][c]
        mk = dict(symbol=symbols[r], size=sizes[r], color=colors[r],
                  line=dict(color="#1a1a1a", width=0.7))
        dx, dy = unzip(data)
        fig.add_trace(go.Scatter(x=dx, y=dy, mode="markers", marker=mk,
                                 xaxis=xa, yaxis=ya, showlegend=False, hoverinfo="skip"))
        if lod is not None:
            fig.add_trace(go.Scatter(x=lod, y=[10 ** LOD] * len(lod), mode="markers", marker=mk,
                                     xaxis=xa, yaxis=ya, showlegend=False, hoverinfo="skip"))
        mx, my = unzip(model)
        fig.add_trace(go.Scatter(x=mx, y=my, mode="lines", line=dict(color="black", width=1.2),
                                 xaxis=xa, yaxis=ya, showlegend=False, hoverinfo="skip"))

        xkey = "xaxis" if k == 1 else f"xaxis{k}"
        ykey = "yaxis" if k == 1 else f"yaxis{k}"
        layout[xkey] = dict(domain=xdom, anchor=ya, range=x_ranges[c], showgrid=False,
                            zeroline=False, showline=False, ticks="outside", ticklen=5,
                            tickwidth=1, tickcolor="black", tickvals=x_ticks,
                            ticktext=x_ticklabels,
                            minor=dict(tickvals=[100], ticks="outside", ticklen=5,
                                       tickwidth=1, tickcolor="black", showgrid=False),
                            tickfont=dict(family=FONT, size=10, color="black", weight="bold"),
                            title=dict(text="Weeks after challenge", standoff=4,
                                       font=dict(family=FONT, size=11, color="black")))
        layout[ykey] = dict(domain=ydom, anchor=xa, type="log", range=y_ranges[c],
                            showgrid=False, zeroline=False, showline=False, ticks="outside",
                            ticklen=5, tickwidth=1, tickcolor="black",
                            tickvals=y_tickvals[c], ticktext=y_ticktext[c], tickangle=-90,
                            tickfont=dict(family=FONT, size=10, color="black", weight="bold"),
                            title=dict(text=ytitles[c], standoff=standoffs[c],
                                       font=dict(family=FONT, size=11, color="black")))
        lo, hi = y_ranges[c]
        frac = lambda v: (v - lo) / (hi - lo)
        a0, a1 = y_axisline[c]
        # axis lines spanning only the tick range (R style)
        shapes.append(dict(type="line", xref=xa, yref=f"{ya} domain", x0=0, x1=120, y0=0, y1=0,
                           line=dict(color="black", width=1.2), layer="above"))
        shapes.append(dict(type="line", xref=f"{xa} domain", yref=f"{ya} domain", x0=0, x1=0,
                           y0=frac(a0), y1=frac(a1), line=dict(color="black", width=1.2),
                           layer="above"))
        # vertical reference lines across the row
        for i, wk in enumerate(events[r]):
            shapes.append(dict(type="line", xref=xa, yref="paper", x0=wk, x1=wk,
                               y0=1 - (rt + ROW_H) / H, y1=1 - rt / H,
                               line=dict(color="#333333", width=0.8,
                                         dash="1px,2px" if i == 2 else "3px,2px,1px,2px"),
                               layer="below"))
        if c == 0:
            shapes.append(dict(type="line", xref=f"{xa} domain", yref=f"{ya} domain", x0=0, x1=1,
                               y0=frac(LOD), y1=frac(LOD),
                               line=dict(color="#333333", width=0.8, dash="1px,2px"),
                               layer="below"))
            annotations.append(dict(text=animals[r], xref=xa, yref=ya, x=label_week[r], y=6.05,
                                    showarrow=False,
                                    font=dict(family=FONT, size=10, color="#222222")))

fig.update_layout(width=W, height=H, margin=dict(l=0, r=0, t=0, b=0),
                  paper_bgcolor="white", plot_bgcolor="rgba(0,0,0,0)",
                  shapes=shapes, annotations=annotations, **layout)
fig.write_html("out.html", config={"displayModeBar": False},
               post_script="document.body.style.margin='0';document.documentElement.style.overflow='hidden';")
